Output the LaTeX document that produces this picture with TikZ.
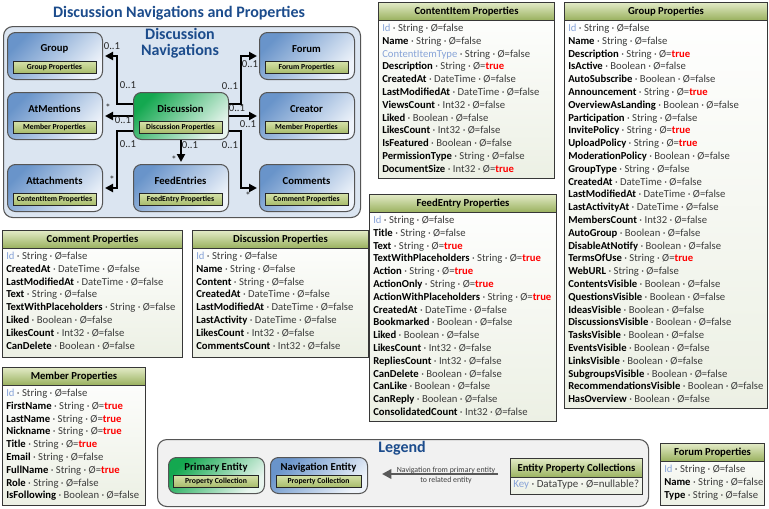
\documentclass[tikz,border=0pt]{standalone}
\usepackage{fontspec}
\setmainfont{Carlito}
\usetikzlibrary{arrows.meta,calc}
\definecolor{titc}{RGB}{28,76,140}
\definecolor{bordc}{RGB}{85,85,85}
\definecolor{tbord}{RGB}{55,55,55}
\definecolor{navtop}{RGB}{105,148,202}
\definecolor{navbot}{RGB}{238,243,250}
\definecolor{pritop}{RGB}{20,168,80}
\definecolor{pribot}{RGB}{232,245,238}
\definecolor{ltop}{RGB}{214,226,170}
\definecolor{lbot}{RGB}{168,188,108}
\definecolor{htop}{RGB}{226,234,198}
\definecolor{hbot}{RGB}{152,176,92}
\definecolor{tbot}{RGB}{236,240,228}
\definecolor{keyc}{RGB}{136,164,216}
\definecolor{truec}{RGB}{255,0,0}
\definecolor{rowc}{RGB}{60,60,60}
\definecolor{contc}{RGB}{219,229,241}
\definecolor{legc}{RGB}{241,241,241}
\newcommand\rowf[2]{\textcolor{black}{\textbf{#1}} · #2 · Ø=false}
\newcommand\rowt[2]{\textcolor{black}{\textbf{#1}} · #2 · Ø=\textcolor{truec}{\textbf{true}}}
\newcommand\rowk[2]{\textcolor{keyc}{#1} · #2 · Ø=false}
\tikzset{
  tbody/.style={draw=tbord, line width=0.8pt, top color=white, bottom color=tbot, anchor=north west, inner sep=0},
  thead/.style={draw=tbord, line width=0.8pt, top color=htop, bottom color=hbot, anchor=north west, inner sep=0, font=\fontsize{8}{9.6}\selectfont\bfseries, text=black},
  prow/.style={anchor=base west, inner sep=0, font=\fontsize{8}{9.6}\selectfont, text=rowc},
  navent/.style={draw=bordc, line width=0.75pt, rounded corners=6pt, top color=navtop, bottom color=navbot, shading angle=45, minimum width=71.25pt, minimum height=35.25pt, anchor=north west, inner sep=0},
  priment/.style={navent, top color=pritop, bottom color=pribot, shading angle=45},
  navtitle/.style={inner sep=0, font=\fontsize{8}{9.6}\selectfont\bfseries, text=black},
  navlabel/.style={draw=black!85, line width=0.6pt, top color=ltop, bottom color=lbot, minimum width=62.25pt, minimum height=9pt, inner sep=0, font=\fontsize{5.8}{7}\selectfont\bfseries, text=black},
  navarr/.style={line width=1.5pt, -{Triangle[length=6pt,width=6pt]}, shorten >=1.5pt},
  mult/.style={inner sep=0, font=\fontsize{8}{9.6}\selectfont, text=black!85},
  bigtitle/.style={inner sep=0, font=\fontsize{12}{11.8}\selectfont\bfseries, text=titc, align=center}
}
\newcommand\ptable[7]{%
  \pgfmathsetmacro\ptw{(#4-#2)*0.75}%
  \pgfmathsetmacro\pth{(#5-#3)*0.75}%
  \node[tbody, minimum width=\ptw pt, minimum height=\pth pt] (#1) at (#2,#3) {};
  \node[thead, minimum width=\ptw pt, minimum height=13.5pt] (#1-h) at (#2,#3) {#6};
  \foreach \pitem [count=\pn] in {#7} {\node[prow] (#1-\pn) at ({#2+4},{#3+29.5+(\pn-1)*12.8}) {\pitem};}
}
\newcommand\navbox[6]{%
  \node[#4] (#1) at (#2,#3) {};
  \node[navtitle] (#1-t) at ({#2+47.5},{#3+17}) {#5};
  \node[navlabel] (#1-l) at ({#2+47.5},{#3+35}) {#6};
}
\begin{document}
\begin{tikzpicture}[x=0.75pt,y=-0.75pt]
\useasboundingbox (0,0) rectangle (769,508);
% title
\node[bigtitle] (title) at (179,13) {Discussion Navigations and Properties};
% navigation container
\node[draw=bordc, line width=0.8pt, fill=contc, rounded corners=7pt, anchor=north west, minimum width=267.75pt, minimum height=143.25pt, inner sep=0] (navc) at (3,26) {};
\node[bigtitle] (navct) at (180,43) {Discussion\\Navigations};
\navbox{group}{7}{32}{navent}{Group}{Group Properties}
\navbox{atm}{7}{92}{navent}{AtMentions}{Member Properties}
\navbox{att}{7}{164}{navent}{Attachments}{ContentItem Properties}
\navbox{disc}{133}{92}{priment}{Discussion}{Discussion Properties}
\navbox{feed}{133}{164}{navent}{FeedEntries}{FeedEntry Properties}
\navbox{forum}{259}{32}{navent}{Forum}{Forum Properties}
\navbox{creator}{259}{92}{navent}{Creator}{Member Properties}
\navbox{comments}{259}{164}{navent}{Comments}{Comment Properties}
% connectors
\draw[navarr] ($(disc.west)+(0,-12)$) -- ++(-16,0) |- (group.east);
\draw[navarr] (disc.west) -- (atm.east);
\draw[navarr] ($(disc.west)+(0,15)$) -- ++(-16,0) |- (att.east);
\draw[navarr] (disc.south) -- (feed.north);
\draw[navarr] ($(disc.east)+(0,-12)$) -- ++(12,0) |- (forum.west);
\draw[navarr] (disc.east) -- (creator.west);
\draw[navarr] ($(disc.east)+(0,15)$) -- ++(12,0) |- (comments.west);
% multiplicities
\node[mult] (m1) at (112,46) {0..1};
\node[mult] (m2) at (128,85) {0..1};
\node[mult] (m3) at (108,108) {*};
\node[mult] (m4) at (123,120) {0..1};
\node[mult] (m5) at (128,144) {0..1};
\node[mult] (m6) at (112,180) {*};
\node[mult] (m7) at (190,145) {0..1};
\node[mult] (m8) at (174,160) {*};
\node[mult] (m9) at (230,86) {0..1};
\node[mult] (m10) at (250,64) {0..1};
\node[mult] (m11) at (237,108) {0..1};
\node[mult] (m12) at (248,124) {0..1};
\node[mult] (m13) at (230,145) {0..1};
\node[mult] (m14) at (248,196) {*};
% property tables
\ptable{ci}{378}{2}{554}{178}{ContentItem Properties}{{\rowk{Id}{String}},{\rowf{Name}{String}},{\rowk{ContentItemType}{String}},{\rowt{Description}{String}},{\rowf{CreatedAt}{DateTime}},{\rowf{LastModifiedAt}{DateTime}},{\rowf{ViewsCount}{Int32}},{\rowf{Liked}{Boolean}},{\rowf{LikesCount}{Int32}},{\rowf{IsFeatured}{Boolean}},{\rowf{PermissionType}{String}},{\rowt{DocumentSize}{Int32}}}
\ptable{gp}{564}{2}{767}{408}{Group Properties}{{\rowk{Id}{String}},{\rowf{Name}{String}},{\rowt{Description}{String}},{\rowf{IsActive}{Boolean}},{\rowf{AutoSubscribe}{Boolean}},{\rowt{Announcement}{String}},{\rowf{OverviewAsLanding}{Boolean}},{\rowf{Participation}{String}},{\rowt{InvitePolicy}{String}},{\rowt{UploadPolicy}{String}},{\rowf{ModerationPolicy}{Boolean}},{\rowf{GroupType}{String}},{\rowf{CreatedAt}{DateTime}},{\rowf{LastModifiedAt}{DateTime}},{\rowf{LastActivityAt}{DateTime}},{\rowf{MembersCount}{Int32}},{\rowf{AutoGroup}{Boolean}},{\rowf{DisableAtNotify}{Boolean}},{\rowt{TermsOfUse}{String}},{\rowf{WebURL}{String}},{\rowf{ContentsVisible}{Boolean}},{\rowf{QuestionsVisible}{Boolean}},{\rowf{IdeasVisible}{Boolean}},{\rowf{DiscussionsVisible}{Boolean}},{\rowf{TasksVisible}{Boolean}},{\rowf{EventsVisible}{Boolean}},{\rowf{LinksVisible}{Boolean}},{\rowf{SubgroupsVisible}{Boolean}},{\rowf{RecommendationsVisible}{Boolean}},{\rowf{HasOverview}{Boolean}}}
\ptable{fe}{369}{194}{556}{421}{FeedEntry Properties}{{\rowk{Id}{String}},{\rowf{Title}{String}},{\rowt{Text}{String}},{\rowt{TextWithPlaceholders}{String}},{\rowt{Action}{String}},{\rowt{ActionOnly}{String}},{\rowt{ActionWithPlaceholders}{String}},{\rowf{CreatedAt}{DateTime}},{\rowf{Bookmarked}{Boolean}},{\rowf{Liked}{Boolean}},{\rowf{LikesCount}{Int32}},{\rowf{RepliesCount}{Int32}},{\rowf{CanDelete}{Boolean}},{\rowf{CanLike}{Boolean}},{\rowf{CanReply}{Boolean}},{\rowf{ConsolidatedCount}{Int32}}}
\ptable{cm}{2}{230}{182}{357}{Comment Properties}{{\rowk{Id}{String}},{\rowf{CreatedAt}{DateTime}},{\rowf{LastModifiedAt}{DateTime}},{\rowf{Text}{String}},{\rowf{TextWithPlaceholders}{String}},{\rowf{Liked}{Boolean}},{\rowf{LikesCount}{Int32}},{\rowf{CanDelete}{Boolean}}}
\ptable{dp}{192}{230}{368}{357}{Discussion Properties}{{\rowk{Id}{String}},{\rowf{Name}{String}},{\rowf{Content}{String}},{\rowf{CreatedAt}{DateTime}},{\rowf{LastModifiedAt}{DateTime}},{\rowf{LastActivity}{DateTime}},{\rowf{LikesCount}{Int32}},{\rowf{CommentsCount}{Int32}}}
\ptable{mp}{2}{367}{145}{505}{Member Properties}{{\rowk{Id}{String}},{\rowt{FirstName}{String}},{\rowt{LastName}{String}},{\rowt{Nickname}{String}},{\rowt{Title}{String}},{\rowf{Email}{String}},{\rowt{FullName}{String}},{\rowf{Role}{String}},{\rowf{IsFollowing}{Boolean}}}
\ptable{fp}{660}{443}{764}{505}{Forum Properties}{{\rowk{Id}{String}},{\rowf{Name}{String}},{\rowf{Type}{String}}}
% legend
\node[draw=bordc, line width=0.8pt, fill=legc, rounded corners=7pt, anchor=north west, minimum width=368.25pt, minimum height=50.25pt, inner sep=0] (leg) at (157,439) {};
\node[bigtitle] (legt) at (402,448) {Legend};
\node[priment, minimum width=72pt, minimum height=27pt] (lprim) at (168,457) {};
\node[navtitle] (lprim-t) at (216,468) {Primary Entity};
\node[navlabel, minimum width=63.75pt] (lprim-l) at (216,481) {Property Collection};
\node[navent, minimum width=72.75pt, minimum height=27pt] (lnav) at (270,457) {};
\node[navtitle] (lnav-t) at (318.5,468) {Navigation Entity};
\node[navlabel, minimum width=63.75pt] (lnav-l) at (318.5,481) {Property Collection};
\coordinate (la) at (498,474);
\coordinate (lb) at (382,474);
\draw[draw=black!65, line width=2pt, -{Triangle[length=7pt,width=7pt]}] (la) -- (lb);
\node[inner sep=0, font=\fontsize{5.9}{7}\selectfont, text=black!75] (lat) at (446,470) {Navigation from primary entity};
\node[inner sep=0, font=\fontsize{5.9}{7}\selectfont, text=black!75] (lbt) at (446,480.5) {to related entity};
\node[tbody, minimum width=99pt, minimum height=27pt] (epc) at (510,458) {};
\node[thead, minimum width=99pt, minimum height=14.5pt] (epc-h) at (510,458) {Entity Property Collections};
\node[prow, font=\fontsize{8.2}{10}\selectfont] (epc-1) at (513,487.5) {\textcolor{keyc}{Key} · DataType · Ø=nullable?};
\end{tikzpicture}
\end{document}
